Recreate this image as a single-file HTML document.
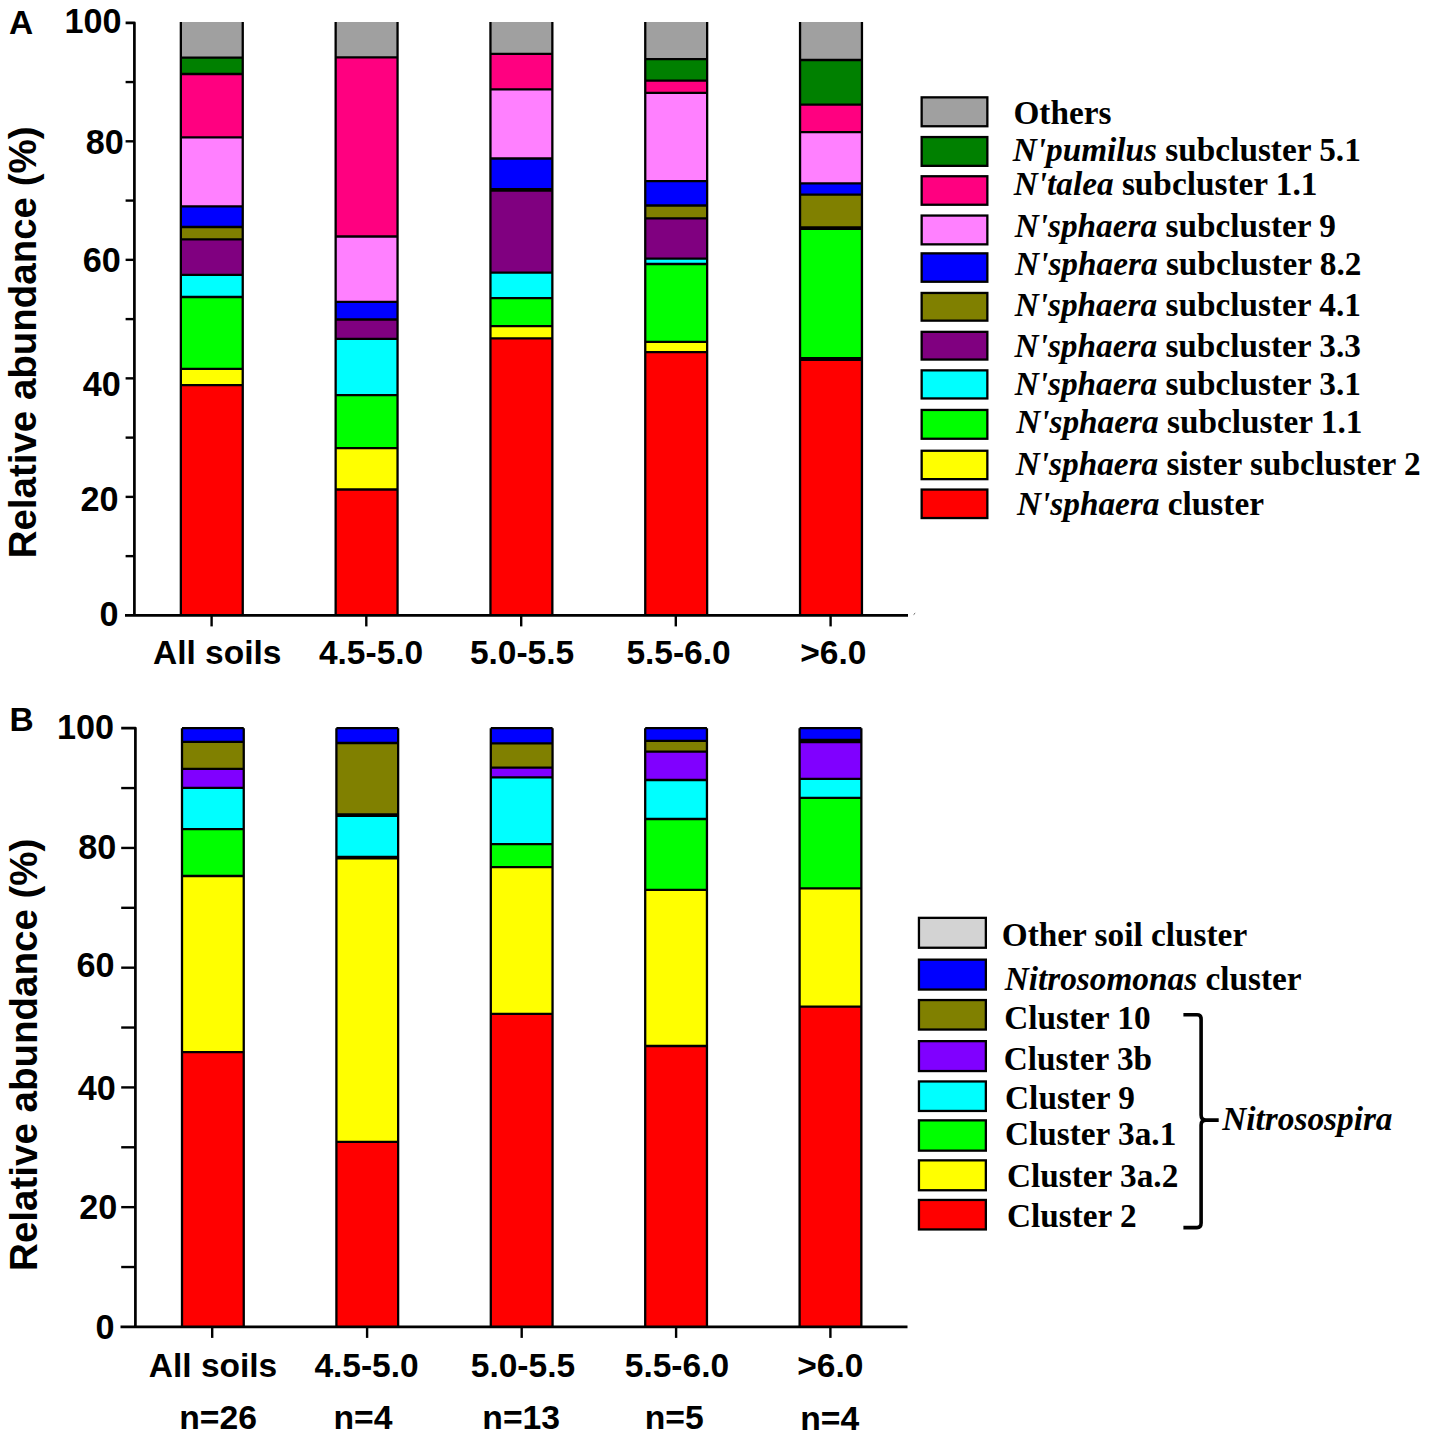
<!DOCTYPE html>
<html><head><meta charset="utf-8"><style>
html,body{margin:0;padding:0;background:#fff;}
svg{display:block;}
.sb{font-family:"Liberation Sans",sans-serif;font-weight:bold;}
.lg{font-family:"Liberation Serif",serif;font-weight:bold;}
.lgi{font-family:"Liberation Serif",serif;font-weight:bold;font-style:italic;}
</style></head><body>
<svg width="1429" height="1440" viewBox="0 0 1429 1440">
<rect width="1429" height="1440" fill="#fff"/>
<rect x="180.85" y="22.00" width="61.90" height="35.70" fill="#a0a0a0"/>
<rect x="180.85" y="57.70" width="61.90" height="16.30" fill="#008000"/>
<rect x="180.85" y="74.00" width="61.90" height="63.40" fill="#ff0080"/>
<rect x="180.85" y="137.40" width="61.90" height="68.90" fill="#ff80ff"/>
<rect x="180.85" y="206.30" width="61.90" height="20.70" fill="#0000ff"/>
<rect x="180.85" y="227.00" width="61.90" height="12.30" fill="#808000"/>
<rect x="180.85" y="239.30" width="61.90" height="35.50" fill="#800080"/>
<rect x="180.85" y="274.80" width="61.90" height="22.20" fill="#00ffff"/>
<rect x="180.85" y="297.00" width="61.90" height="71.90" fill="#00ff00"/>
<rect x="180.85" y="368.90" width="61.90" height="16.20" fill="#ffff00"/>
<rect x="180.85" y="385.10" width="61.90" height="230.30" fill="#ff0000"/>
<line x1="180.85" x2="242.75" y1="57.70" y2="57.70" stroke="#000" stroke-width="2.3"/>
<line x1="180.85" x2="242.75" y1="74.00" y2="74.00" stroke="#000" stroke-width="2.3"/>
<line x1="180.85" x2="242.75" y1="137.40" y2="137.40" stroke="#000" stroke-width="2.3"/>
<line x1="180.85" x2="242.75" y1="206.30" y2="206.30" stroke="#000" stroke-width="2.3"/>
<line x1="180.85" x2="242.75" y1="227.00" y2="227.00" stroke="#000" stroke-width="2.3"/>
<line x1="180.85" x2="242.75" y1="239.30" y2="239.30" stroke="#000" stroke-width="2.3"/>
<line x1="180.85" x2="242.75" y1="274.80" y2="274.80" stroke="#000" stroke-width="2.3"/>
<line x1="180.85" x2="242.75" y1="297.00" y2="297.00" stroke="#000" stroke-width="2.3"/>
<line x1="180.85" x2="242.75" y1="368.90" y2="368.90" stroke="#000" stroke-width="2.3"/>
<line x1="180.85" x2="242.75" y1="385.10" y2="385.10" stroke="#000" stroke-width="2.3"/>
<line x1="180.85" x2="180.85" y1="22.00" y2="615.40" stroke="#000" stroke-width="2.3"/>
<line x1="242.75" x2="242.75" y1="22.00" y2="615.40" stroke="#000" stroke-width="2.3"/>
<rect x="335.65" y="22.00" width="61.90" height="35.30" fill="#a0a0a0"/>
<rect x="335.65" y="57.30" width="61.90" height="179.20" fill="#ff0080"/>
<rect x="335.65" y="236.50" width="61.90" height="65.30" fill="#ff80ff"/>
<rect x="335.65" y="301.80" width="61.90" height="17.70" fill="#0000ff"/>
<rect x="335.65" y="319.50" width="61.90" height="19.40" fill="#800080"/>
<rect x="335.65" y="338.90" width="61.90" height="56.20" fill="#00ffff"/>
<rect x="335.65" y="395.10" width="61.90" height="53.10" fill="#00ff00"/>
<rect x="335.65" y="448.20" width="61.90" height="41.30" fill="#ffff00"/>
<rect x="335.65" y="489.50" width="61.90" height="125.90" fill="#ff0000"/>
<line x1="335.65" x2="397.55" y1="57.30" y2="57.30" stroke="#000" stroke-width="2.3"/>
<line x1="335.65" x2="397.55" y1="236.50" y2="236.50" stroke="#000" stroke-width="2.3"/>
<line x1="335.65" x2="397.55" y1="301.80" y2="301.80" stroke="#000" stroke-width="2.3"/>
<line x1="335.65" x2="397.55" y1="319.50" y2="319.50" stroke="#000" stroke-width="2.3"/>
<line x1="335.65" x2="397.55" y1="338.90" y2="338.90" stroke="#000" stroke-width="2.3"/>
<line x1="335.65" x2="397.55" y1="395.10" y2="395.10" stroke="#000" stroke-width="2.3"/>
<line x1="335.65" x2="397.55" y1="448.20" y2="448.20" stroke="#000" stroke-width="2.3"/>
<line x1="335.65" x2="397.55" y1="489.50" y2="489.50" stroke="#000" stroke-width="2.3"/>
<line x1="335.65" x2="335.65" y1="22.00" y2="615.40" stroke="#000" stroke-width="2.3"/>
<line x1="397.55" x2="397.55" y1="22.00" y2="615.40" stroke="#000" stroke-width="2.3"/>
<rect x="490.45" y="22.00" width="61.90" height="31.90" fill="#a0a0a0"/>
<rect x="490.45" y="53.90" width="61.90" height="35.40" fill="#ff0080"/>
<rect x="490.45" y="89.30" width="61.90" height="69.20" fill="#ff80ff"/>
<rect x="490.45" y="158.50" width="61.90" height="31.30" fill="#0000ff"/>
<rect x="490.45" y="189.80" width="61.90" height="82.80" fill="#800080"/>
<rect x="490.45" y="272.60" width="61.90" height="25.60" fill="#00ffff"/>
<rect x="490.45" y="298.20" width="61.90" height="27.90" fill="#00ff00"/>
<rect x="490.45" y="326.10" width="61.90" height="12.30" fill="#ffff00"/>
<rect x="490.45" y="338.40" width="61.90" height="277.00" fill="#ff0000"/>
<line x1="490.45" x2="552.35" y1="53.90" y2="53.90" stroke="#000" stroke-width="2.3"/>
<line x1="490.45" x2="552.35" y1="89.30" y2="89.30" stroke="#000" stroke-width="2.3"/>
<line x1="490.45" x2="552.35" y1="158.50" y2="158.50" stroke="#000" stroke-width="2.3"/>
<line x1="490.45" x2="552.35" y1="189.80" y2="189.80" stroke="#000" stroke-width="2.3"/>
<line x1="490.45" x2="552.35" y1="272.60" y2="272.60" stroke="#000" stroke-width="2.3"/>
<line x1="490.45" x2="552.35" y1="298.20" y2="298.20" stroke="#000" stroke-width="2.3"/>
<line x1="490.45" x2="552.35" y1="326.10" y2="326.10" stroke="#000" stroke-width="2.3"/>
<line x1="490.45" x2="552.35" y1="338.40" y2="338.40" stroke="#000" stroke-width="2.3"/>
<line x1="490.45" x2="552.35" y1="189.80" y2="189.80" stroke="#000" stroke-width="3.8"/>
<line x1="490.45" x2="490.45" y1="22.00" y2="615.40" stroke="#000" stroke-width="2.3"/>
<line x1="552.35" x2="552.35" y1="22.00" y2="615.40" stroke="#000" stroke-width="2.3"/>
<rect x="645.25" y="22.00" width="61.90" height="37.10" fill="#a0a0a0"/>
<rect x="645.25" y="59.10" width="61.90" height="21.50" fill="#008000"/>
<rect x="645.25" y="80.60" width="61.90" height="12.30" fill="#ff0080"/>
<rect x="645.25" y="92.90" width="61.90" height="88.30" fill="#ff80ff"/>
<rect x="645.25" y="181.20" width="61.90" height="24.30" fill="#0000ff"/>
<rect x="645.25" y="205.50" width="61.90" height="12.90" fill="#808000"/>
<rect x="645.25" y="218.40" width="61.90" height="40.30" fill="#800080"/>
<rect x="645.25" y="258.70" width="61.90" height="5.30" fill="#00ffff"/>
<rect x="645.25" y="264.00" width="61.90" height="77.90" fill="#00ff00"/>
<rect x="645.25" y="341.90" width="61.90" height="10.20" fill="#ffff00"/>
<rect x="645.25" y="352.10" width="61.90" height="263.30" fill="#ff0000"/>
<line x1="645.25" x2="707.15" y1="59.10" y2="59.10" stroke="#000" stroke-width="2.3"/>
<line x1="645.25" x2="707.15" y1="80.60" y2="80.60" stroke="#000" stroke-width="2.3"/>
<line x1="645.25" x2="707.15" y1="92.90" y2="92.90" stroke="#000" stroke-width="2.3"/>
<line x1="645.25" x2="707.15" y1="181.20" y2="181.20" stroke="#000" stroke-width="2.3"/>
<line x1="645.25" x2="707.15" y1="205.50" y2="205.50" stroke="#000" stroke-width="2.3"/>
<line x1="645.25" x2="707.15" y1="218.40" y2="218.40" stroke="#000" stroke-width="2.3"/>
<line x1="645.25" x2="707.15" y1="258.70" y2="258.70" stroke="#000" stroke-width="2.3"/>
<line x1="645.25" x2="707.15" y1="264.00" y2="264.00" stroke="#000" stroke-width="2.3"/>
<line x1="645.25" x2="707.15" y1="341.90" y2="341.90" stroke="#000" stroke-width="2.3"/>
<line x1="645.25" x2="707.15" y1="352.10" y2="352.10" stroke="#000" stroke-width="2.3"/>
<line x1="645.25" x2="645.25" y1="22.00" y2="615.40" stroke="#000" stroke-width="2.3"/>
<line x1="707.15" x2="707.15" y1="22.00" y2="615.40" stroke="#000" stroke-width="2.3"/>
<rect x="800.05" y="22.00" width="61.90" height="38.00" fill="#a0a0a0"/>
<rect x="800.05" y="60.00" width="61.90" height="44.70" fill="#008000"/>
<rect x="800.05" y="104.70" width="61.90" height="27.40" fill="#ff0080"/>
<rect x="800.05" y="132.10" width="61.90" height="51.20" fill="#ff80ff"/>
<rect x="800.05" y="183.30" width="61.90" height="11.40" fill="#0000ff"/>
<rect x="800.05" y="194.70" width="61.90" height="33.40" fill="#808000"/>
<rect x="800.05" y="228.10" width="61.90" height="130.90" fill="#00ff00"/>
<rect x="800.05" y="359.00" width="61.90" height="256.40" fill="#ff0000"/>
<line x1="800.05" x2="861.95" y1="60.00" y2="60.00" stroke="#000" stroke-width="2.3"/>
<line x1="800.05" x2="861.95" y1="104.70" y2="104.70" stroke="#000" stroke-width="2.3"/>
<line x1="800.05" x2="861.95" y1="132.10" y2="132.10" stroke="#000" stroke-width="2.3"/>
<line x1="800.05" x2="861.95" y1="183.30" y2="183.30" stroke="#000" stroke-width="2.3"/>
<line x1="800.05" x2="861.95" y1="194.70" y2="194.70" stroke="#000" stroke-width="2.3"/>
<line x1="800.05" x2="861.95" y1="228.10" y2="228.10" stroke="#000" stroke-width="2.3"/>
<line x1="800.05" x2="861.95" y1="359.00" y2="359.00" stroke="#000" stroke-width="2.3"/>
<line x1="800.05" x2="861.95" y1="228.10" y2="228.10" stroke="#000" stroke-width="3.8"/>
<line x1="800.05" x2="861.95" y1="359.00" y2="359.00" stroke="#000" stroke-width="3.8"/>
<line x1="800.05" x2="800.05" y1="22.00" y2="615.40" stroke="#000" stroke-width="2.3"/>
<line x1="861.95" x2="861.95" y1="22.00" y2="615.40" stroke="#000" stroke-width="2.3"/>
<rect x="182.00" y="728.15" width="61.75" height="13.75" fill="#0000ff"/>
<rect x="182.00" y="741.90" width="61.75" height="27.00" fill="#808000"/>
<rect x="182.00" y="768.90" width="61.75" height="18.90" fill="#8000ff"/>
<rect x="182.00" y="787.80" width="61.75" height="41.30" fill="#00ffff"/>
<rect x="182.00" y="829.10" width="61.75" height="46.90" fill="#00ff00"/>
<rect x="182.00" y="876.00" width="61.75" height="176.20" fill="#ffff00"/>
<rect x="182.00" y="1052.20" width="61.75" height="274.70" fill="#ff0000"/>
<line x1="182.00" x2="243.75" y1="728.15" y2="728.15" stroke="#000" stroke-width="2.3"/>
<line x1="182.00" x2="243.75" y1="741.90" y2="741.90" stroke="#000" stroke-width="2.3"/>
<line x1="182.00" x2="243.75" y1="768.90" y2="768.90" stroke="#000" stroke-width="2.3"/>
<line x1="182.00" x2="243.75" y1="787.80" y2="787.80" stroke="#000" stroke-width="2.3"/>
<line x1="182.00" x2="243.75" y1="829.10" y2="829.10" stroke="#000" stroke-width="2.3"/>
<line x1="182.00" x2="243.75" y1="876.00" y2="876.00" stroke="#000" stroke-width="2.3"/>
<line x1="182.00" x2="243.75" y1="1052.20" y2="1052.20" stroke="#000" stroke-width="2.3"/>
<line x1="182.00" x2="182.00" y1="728.15" y2="1326.90" stroke="#000" stroke-width="2.3"/>
<line x1="243.75" x2="243.75" y1="728.15" y2="1326.90" stroke="#000" stroke-width="2.3"/>
<rect x="336.40" y="728.15" width="61.75" height="14.85" fill="#0000ff"/>
<rect x="336.40" y="743.00" width="61.75" height="72.10" fill="#808000"/>
<rect x="336.40" y="815.10" width="61.75" height="42.60" fill="#00ffff"/>
<rect x="336.40" y="857.70" width="61.75" height="284.10" fill="#ffff00"/>
<rect x="336.40" y="1141.80" width="61.75" height="185.10" fill="#ff0000"/>
<line x1="336.40" x2="398.15" y1="728.15" y2="728.15" stroke="#000" stroke-width="2.3"/>
<line x1="336.40" x2="398.15" y1="743.00" y2="743.00" stroke="#000" stroke-width="2.3"/>
<line x1="336.40" x2="398.15" y1="815.10" y2="815.10" stroke="#000" stroke-width="2.3"/>
<line x1="336.40" x2="398.15" y1="857.70" y2="857.70" stroke="#000" stroke-width="2.3"/>
<line x1="336.40" x2="398.15" y1="1141.80" y2="1141.80" stroke="#000" stroke-width="2.3"/>
<line x1="336.40" x2="398.15" y1="815.10" y2="815.10" stroke="#000" stroke-width="3.8"/>
<line x1="336.40" x2="398.15" y1="857.70" y2="857.70" stroke="#000" stroke-width="3.8"/>
<line x1="336.40" x2="336.40" y1="728.15" y2="1326.90" stroke="#000" stroke-width="2.3"/>
<line x1="398.15" x2="398.15" y1="728.15" y2="1326.90" stroke="#000" stroke-width="2.3"/>
<rect x="490.80" y="728.15" width="61.75" height="15.25" fill="#0000ff"/>
<rect x="490.80" y="743.40" width="61.75" height="24.30" fill="#808000"/>
<rect x="490.80" y="767.70" width="61.75" height="9.70" fill="#8000ff"/>
<rect x="490.80" y="777.40" width="61.75" height="66.80" fill="#00ffff"/>
<rect x="490.80" y="844.20" width="61.75" height="23.00" fill="#00ff00"/>
<rect x="490.80" y="867.20" width="61.75" height="146.60" fill="#ffff00"/>
<rect x="490.80" y="1013.80" width="61.75" height="313.10" fill="#ff0000"/>
<line x1="490.80" x2="552.55" y1="728.15" y2="728.15" stroke="#000" stroke-width="2.3"/>
<line x1="490.80" x2="552.55" y1="743.40" y2="743.40" stroke="#000" stroke-width="2.3"/>
<line x1="490.80" x2="552.55" y1="767.70" y2="767.70" stroke="#000" stroke-width="2.3"/>
<line x1="490.80" x2="552.55" y1="777.40" y2="777.40" stroke="#000" stroke-width="2.3"/>
<line x1="490.80" x2="552.55" y1="844.20" y2="844.20" stroke="#000" stroke-width="2.3"/>
<line x1="490.80" x2="552.55" y1="867.20" y2="867.20" stroke="#000" stroke-width="2.3"/>
<line x1="490.80" x2="552.55" y1="1013.80" y2="1013.80" stroke="#000" stroke-width="2.3"/>
<line x1="490.80" x2="490.80" y1="728.15" y2="1326.90" stroke="#000" stroke-width="2.3"/>
<line x1="552.55" x2="552.55" y1="728.15" y2="1326.90" stroke="#000" stroke-width="2.3"/>
<rect x="645.20" y="728.15" width="61.75" height="12.65" fill="#0000ff"/>
<rect x="645.20" y="740.80" width="61.75" height="10.80" fill="#808000"/>
<rect x="645.20" y="751.60" width="61.75" height="28.40" fill="#8000ff"/>
<rect x="645.20" y="780.00" width="61.75" height="39.00" fill="#00ffff"/>
<rect x="645.20" y="819.00" width="61.75" height="70.80" fill="#00ff00"/>
<rect x="645.20" y="889.80" width="61.75" height="156.20" fill="#ffff00"/>
<rect x="645.20" y="1046.00" width="61.75" height="280.90" fill="#ff0000"/>
<line x1="645.20" x2="706.95" y1="728.15" y2="728.15" stroke="#000" stroke-width="2.3"/>
<line x1="645.20" x2="706.95" y1="740.80" y2="740.80" stroke="#000" stroke-width="2.3"/>
<line x1="645.20" x2="706.95" y1="751.60" y2="751.60" stroke="#000" stroke-width="2.3"/>
<line x1="645.20" x2="706.95" y1="780.00" y2="780.00" stroke="#000" stroke-width="2.3"/>
<line x1="645.20" x2="706.95" y1="819.00" y2="819.00" stroke="#000" stroke-width="2.3"/>
<line x1="645.20" x2="706.95" y1="889.80" y2="889.80" stroke="#000" stroke-width="2.3"/>
<line x1="645.20" x2="706.95" y1="1046.00" y2="1046.00" stroke="#000" stroke-width="2.3"/>
<line x1="645.20" x2="645.20" y1="728.15" y2="1326.90" stroke="#000" stroke-width="2.3"/>
<line x1="706.95" x2="706.95" y1="728.15" y2="1326.90" stroke="#000" stroke-width="2.3"/>
<rect x="799.60" y="728.15" width="61.75" height="11.85" fill="#0000ff"/>
<rect x="799.60" y="740.00" width="61.75" height="2.00" fill="#808000"/>
<rect x="799.60" y="742.00" width="61.75" height="36.80" fill="#8000ff"/>
<rect x="799.60" y="778.80" width="61.75" height="19.10" fill="#00ffff"/>
<rect x="799.60" y="797.90" width="61.75" height="90.40" fill="#00ff00"/>
<rect x="799.60" y="888.30" width="61.75" height="118.40" fill="#ffff00"/>
<rect x="799.60" y="1006.70" width="61.75" height="320.20" fill="#ff0000"/>
<line x1="799.60" x2="861.35" y1="728.15" y2="728.15" stroke="#000" stroke-width="2.3"/>
<line x1="799.60" x2="861.35" y1="740.00" y2="740.00" stroke="#000" stroke-width="2.3"/>
<line x1="799.60" x2="861.35" y1="742.00" y2="742.00" stroke="#000" stroke-width="2.3"/>
<line x1="799.60" x2="861.35" y1="778.80" y2="778.80" stroke="#000" stroke-width="2.3"/>
<line x1="799.60" x2="861.35" y1="797.90" y2="797.90" stroke="#000" stroke-width="2.3"/>
<line x1="799.60" x2="861.35" y1="888.30" y2="888.30" stroke="#000" stroke-width="2.3"/>
<line x1="799.60" x2="861.35" y1="1006.70" y2="1006.70" stroke="#000" stroke-width="2.3"/>
<line x1="799.60" x2="799.60" y1="728.15" y2="1326.90" stroke="#000" stroke-width="2.3"/>
<line x1="861.35" x2="861.35" y1="728.15" y2="1326.90" stroke="#000" stroke-width="2.3"/>
<path d="M125.60,22.80 H134.40 V615.40 M125.00,615.40 H908.00" fill="none" stroke="#000" stroke-width="2.7" stroke-linecap="butt" stroke-linejoin="round"/>
<line x1="125.60" x2="134.40" y1="556.14" y2="556.14" stroke="#000" stroke-width="2.4"/>
<line x1="125.60" x2="134.40" y1="496.88" y2="496.88" stroke="#000" stroke-width="2.4"/>
<line x1="125.60" x2="134.40" y1="437.62" y2="437.62" stroke="#000" stroke-width="2.4"/>
<line x1="125.60" x2="134.40" y1="378.36" y2="378.36" stroke="#000" stroke-width="2.4"/>
<line x1="125.60" x2="134.40" y1="319.10" y2="319.10" stroke="#000" stroke-width="2.4"/>
<line x1="125.60" x2="134.40" y1="259.84" y2="259.84" stroke="#000" stroke-width="2.4"/>
<line x1="125.60" x2="134.40" y1="200.58" y2="200.58" stroke="#000" stroke-width="2.4"/>
<line x1="125.60" x2="134.40" y1="141.32" y2="141.32" stroke="#000" stroke-width="2.4"/>
<line x1="125.60" x2="134.40" y1="82.06" y2="82.06" stroke="#000" stroke-width="2.4"/>
<line x1="211.6" x2="211.6" y1="615.4" y2="626.4" stroke="#000" stroke-width="2.4"/>
<line x1="366.3" x2="366.3" y1="615.4" y2="626.4" stroke="#000" stroke-width="2.4"/>
<line x1="521.2" x2="521.2" y1="615.4" y2="626.4" stroke="#000" stroke-width="2.4"/>
<line x1="675.8" x2="675.8" y1="615.4" y2="626.4" stroke="#000" stroke-width="2.4"/>
<line x1="830.6" x2="830.6" y1="615.4" y2="626.4" stroke="#000" stroke-width="2.4"/>
<path d="M121.20,728.20 H135.40 V1326.90 M120.50,1326.90 H907.50" fill="none" stroke="#000" stroke-width="2.7" stroke-linecap="butt" stroke-linejoin="round"/>
<line x1="121.20" x2="135.40" y1="1267.03" y2="1267.03" stroke="#000" stroke-width="2.4"/>
<line x1="121.20" x2="135.40" y1="1207.16" y2="1207.16" stroke="#000" stroke-width="2.4"/>
<line x1="121.20" x2="135.40" y1="1147.29" y2="1147.29" stroke="#000" stroke-width="2.4"/>
<line x1="121.20" x2="135.40" y1="1087.42" y2="1087.42" stroke="#000" stroke-width="2.4"/>
<line x1="121.20" x2="135.40" y1="1027.55" y2="1027.55" stroke="#000" stroke-width="2.4"/>
<line x1="121.20" x2="135.40" y1="967.68" y2="967.68" stroke="#000" stroke-width="2.4"/>
<line x1="121.20" x2="135.40" y1="907.81" y2="907.81" stroke="#000" stroke-width="2.4"/>
<line x1="121.20" x2="135.40" y1="847.94" y2="847.94" stroke="#000" stroke-width="2.4"/>
<line x1="121.20" x2="135.40" y1="788.07" y2="788.07" stroke="#000" stroke-width="2.4"/>
<line x1="212.2" x2="212.2" y1="1326.9" y2="1337.9" stroke="#000" stroke-width="2.4"/>
<line x1="367.1" x2="367.1" y1="1326.9" y2="1337.9" stroke="#000" stroke-width="2.4"/>
<line x1="521.7" x2="521.7" y1="1326.9" y2="1337.9" stroke="#000" stroke-width="2.4"/>
<line x1="676.1" x2="676.1" y1="1326.9" y2="1337.9" stroke="#000" stroke-width="2.4"/>
<line x1="830.4" x2="830.4" y1="1326.9" y2="1337.9" stroke="#000" stroke-width="2.4"/>
<line x1="913.6" y1="614.6" x2="915.2" y2="613.2" stroke="#555" stroke-width="1"/>
<text x="64.60" y="32.80" class="sb" font-size="34.20">100</text>
<text x="85.80" y="154.40" class="sb" font-size="34.20">80</text>
<text x="82.87" y="271.70" class="sb" font-size="34.20">60</text>
<text x="82.79" y="395.80" class="sb" font-size="34.20">40</text>
<text x="80.39" y="510.60" class="sb" font-size="34.20">20</text>
<text x="99.52" y="626.30" class="sb" font-size="34.20">0</text>
<text x="57.10" y="739.40" class="sb" font-size="34.20">100</text>
<text x="78.18" y="859.40" class="sb" font-size="34.20">80</text>
<text x="76.59" y="977.20" class="sb" font-size="34.20">60</text>
<text x="77.79" y="1099.80" class="sb" font-size="34.20">40</text>
<text x="79.13" y="1219.40" class="sb" font-size="34.20">20</text>
<text x="95.41" y="1338.90" class="sb" font-size="34.20">0</text>
<text x="152.99" y="664.30" class="sb" font-size="33.50">All soils</text>
<text x="318.91" y="664.30" class="sb" font-size="33.50">4.5-5.0</text>
<text x="469.90" y="664.10" class="sb" font-size="33.50">5.0-5.5</text>
<text x="626.40" y="664.10" class="sb" font-size="33.50">5.5-6.0</text>
<text x="800.26" y="664.30" class="sb" font-size="33.50">&gt;6.0</text>
<text x="148.79" y="1376.70" class="sb" font-size="33.50">All soils</text>
<text x="314.39" y="1376.70" class="sb" font-size="33.50">4.5-5.0</text>
<text x="470.80" y="1376.50" class="sb" font-size="33.50">5.0-5.5</text>
<text x="624.80" y="1376.50" class="sb" font-size="33.50">5.5-6.0</text>
<text x="797.22" y="1376.50" class="sb" font-size="33.50">&gt;6.0</text>
<text x="179.25" y="1429.20" class="sb" font-size="33.70">n=26</text>
<text x="333.43" y="1429.20" class="sb" font-size="33.70">n=4</text>
<text x="482.34" y="1429.10" class="sb" font-size="33.70">n=13</text>
<text x="644.69" y="1429.10" class="sb" font-size="33.70">n=5</text>
<text x="800.28" y="1429.60" class="sb" font-size="33.70">n=4</text>
<text x="9.03" y="34.10" class="sb" font-size="33.50">A</text>
<text x="9.49" y="731.20" class="sb" font-size="33.50">B</text>
<text x="1013.48" y="123.60" class="lg" font-size="33.30">Others</text>
<text x="1012.70" y="160.50" class="lg" font-size="33.30"><tspan font-style="italic">N'pumilus</tspan> subcluster 5.1</text>
<text x="1013.70" y="195.10" class="lg" font-size="33.30"><tspan font-style="italic">N'talea</tspan> subcluster 1.1</text>
<text x="1014.70" y="236.50" class="lg" font-size="33.30"><tspan font-style="italic">N'sphaera</tspan> subcluster 9</text>
<text x="1015.10" y="274.60" class="lg" font-size="33.30"><tspan font-style="italic">N'sphaera</tspan> subcluster 8.2</text>
<text x="1014.70" y="316.10" class="lg" font-size="33.30"><tspan font-style="italic">N'sphaera</tspan> subcluster 4.1</text>
<text x="1014.60" y="356.50" class="lg" font-size="33.30"><tspan font-style="italic">N'sphaera</tspan> subcluster 3.3</text>
<text x="1014.70" y="394.60" class="lg" font-size="33.30"><tspan font-style="italic">N'sphaera</tspan> subcluster 3.1</text>
<text x="1016.20" y="432.50" class="lg" font-size="33.30"><tspan font-style="italic">N'sphaera</tspan> subcluster 1.1</text>
<text x="1015.80" y="474.50" class="lg" font-size="33.30"><tspan font-style="italic">N'sphaera</tspan> sister subcluster 2</text>
<text x="1017.00" y="515.00" class="lg" font-size="33.30"><tspan font-style="italic">N'sphaera</tspan> cluster</text>
<text x="1001.80" y="946.30" class="lg" font-size="33.30">Other soil cluster</text>
<text x="1004.70" y="989.50" class="lg" font-size="33.30"><tspan font-style="italic">Nitrosomonas</tspan> cluster</text>
<text x="1004.18" y="1028.70" class="lg" font-size="33.30">Cluster 10</text>
<text x="1003.79" y="1069.70" class="lg" font-size="33.30">Cluster 3b</text>
<text x="1005.09" y="1108.50" class="lg" font-size="33.30">Cluster 9</text>
<text x="1004.91" y="1144.70" class="lg" font-size="33.30">Cluster 3a.1</text>
<text x="1006.89" y="1186.70" class="lg" font-size="33.30">Cluster 3a.2</text>
<text x="1006.88" y="1227.10" class="lg" font-size="33.30">Cluster 2</text>
<text x="1222.30" y="1130.20" class="lgi" font-size="33.30">Nitrosospira</text>
<text transform="translate(35.80,342.45) rotate(-90)" text-anchor="middle" class="sb" font-size="38.47">Relative abundance (%)</text>
<text transform="translate(37.30,1054.75) rotate(-90)" text-anchor="middle" class="sb" font-size="38.53">Relative abundance (%)</text>
<rect x="921.65" y="97.35" width="65.70" height="28.90" fill="#a0a0a0" stroke="#000" stroke-width="2.3"/>
<rect x="921.65" y="137.05" width="65.70" height="28.80" fill="#008000" stroke="#000" stroke-width="2.3"/>
<rect x="921.65" y="176.25" width="65.70" height="28.50" fill="#ff0080" stroke="#000" stroke-width="2.3"/>
<rect x="921.65" y="215.55" width="65.70" height="28.80" fill="#ff80ff" stroke="#000" stroke-width="2.3"/>
<rect x="921.65" y="253.35" width="65.70" height="28.40" fill="#0000ff" stroke="#000" stroke-width="2.3"/>
<rect x="921.65" y="292.95" width="65.70" height="27.70" fill="#808000" stroke="#000" stroke-width="2.3"/>
<rect x="921.65" y="331.85" width="65.70" height="27.70" fill="#800080" stroke="#000" stroke-width="2.3"/>
<rect x="921.65" y="370.35" width="65.70" height="28.10" fill="#00ffff" stroke="#000" stroke-width="2.3"/>
<rect x="921.65" y="409.95" width="65.70" height="28.80" fill="#00ff00" stroke="#000" stroke-width="2.3"/>
<rect x="921.65" y="450.75" width="65.70" height="28.40" fill="#ffff00" stroke="#000" stroke-width="2.3"/>
<rect x="921.65" y="489.55" width="65.70" height="28.50" fill="#ff0000" stroke="#000" stroke-width="2.3"/>
<rect x="918.95" y="917.85" width="66.90" height="29.90" fill="#d3d3d3" stroke="#000" stroke-width="2.3"/>
<rect x="918.95" y="959.65" width="66.90" height="29.90" fill="#0000ff" stroke="#000" stroke-width="2.3"/>
<rect x="918.95" y="1000.05" width="66.90" height="29.50" fill="#808000" stroke="#000" stroke-width="2.3"/>
<rect x="918.95" y="1041.15" width="66.90" height="29.90" fill="#8000ff" stroke="#000" stroke-width="2.3"/>
<rect x="918.95" y="1081.45" width="66.90" height="29.50" fill="#00ffff" stroke="#000" stroke-width="2.3"/>
<rect x="918.95" y="1120.35" width="66.90" height="30.30" fill="#00ff00" stroke="#000" stroke-width="2.3"/>
<rect x="918.95" y="1160.35" width="66.90" height="29.90" fill="#ffff00" stroke="#000" stroke-width="2.3"/>
<rect x="918.95" y="1199.95" width="66.90" height="29.50" fill="#ff0000" stroke="#000" stroke-width="2.3"/>
<path d="M1183.4,1014.8 H1197 Q1201.1,1014.8 1201.1,1019 V1115 Q1201.1,1120.1 1206,1120.1 H1218.7 M1206,1120.1 Q1201.1,1120.1 1201.1,1125 V1223 Q1201.1,1227.6 1197,1227.6 H1183.4" fill="none" stroke="#000" stroke-width="3.6"/>
</svg>
</body></html>
